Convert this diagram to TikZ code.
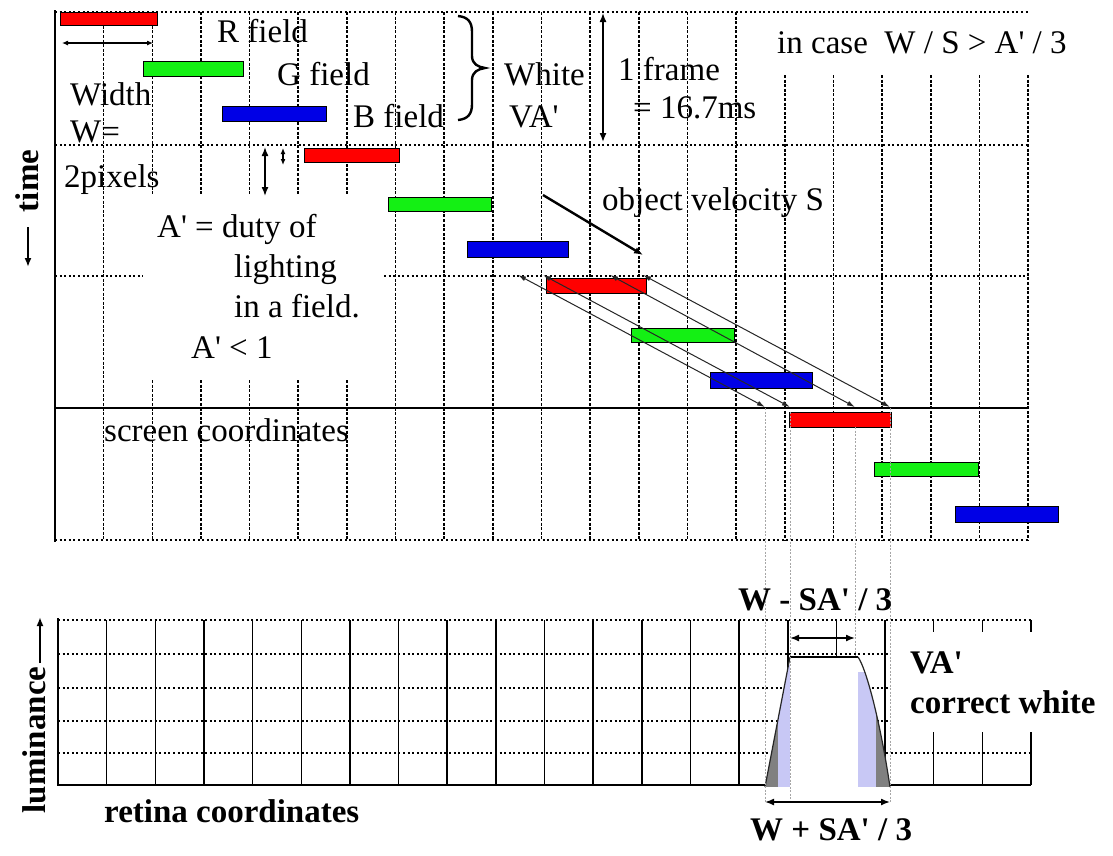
\documentclass[tikz,border=0pt]{standalone}
\usepackage{fontspec}
\setmainfont{Liberation Serif}
\usetikzlibrary{arrows.meta}
\definecolor{barred}{RGB}{255,0,0}
\definecolor{bargreen}{RGB}{20,240,20}
\definecolor{barblue}{RGB}{0,0,230}
\definecolor{lavfill}{RGB}{200,200,245}
\definecolor{darkfill}{RGB}{128,128,128}
\newcommand{\ap}{\textquotesingle}
\begin{document}
\begin{tikzpicture}[x=1pt,y=-1pt,
  vgrid/.style={line width=1.6pt, dash pattern=on 3pt off 1.6pt},
  hgrid/.style={line width=1.6pt, dash pattern=on 2pt off 2.6pt},
  solidline/.style={line width=1.5pt},
  colline/.style={line width=1.5pt},
  bar/.style={draw=black, line width=0.9pt},
  lbl/.style={font=\fontsize{33}{40}\selectfont, inner sep=0pt, anchor=base west},
  blbl/.style={font=\fontsize{33}{40}\selectfont\bfseries, inner sep=0pt, anchor=base west},
  tip/.style={-{Latex[length=9pt,width=7pt]}},
  dtip/.style={{Latex[length=9pt,width=7pt]}-{Latex[length=9pt,width=7pt]}},
  stip/.style={{Latex[length=6pt,width=5pt]}-{Latex[length=6pt,width=5pt]}},
  traj/.style={draw=black!85, line width=1pt, {Latex[length=8pt,width=5pt]}-{Latex[length=8pt,width=5pt]}},
  guide/.style={draw=black!35, line width=1pt, dash pattern=on 2pt off 1.5pt}
]
\useasboundingbox (0,0) rectangle (1113,855);
\fill[white] (0,0) rectangle (1113,855);

% ---------- top grid ----------
\def\cw{48.65}
\foreach \k in {1,7,8,9,10,11,12,13,14}
  \draw[vgrid] ({55+\k*\cw},12) -- ({55+\k*\cw},540);
\foreach \k in {2,3,4,5,6}{
  \draw[vgrid] ({55+\k*\cw},12) -- ({55+\k*\cw},195);
  \draw[vgrid] ({55+\k*\cw},380) -- ({55+\k*\cw},540);}
\foreach \k in {15,16,17,18,19,20}
  \draw[vgrid] ({55+\k*\cw},75) -- ({55+\k*\cw},540);
\draw[hgrid] (55,12) -- (1028,12);
\draw[hgrid] (55,145) -- (1028,145);
\draw[hgrid] (55,276) -- (143,276);
\draw[hgrid] (384,276) -- (1028,276);
\draw[hgrid] (55,540) -- (1028,540);
\draw[solidline] (55,408) -- (1028,408);
\draw[solidline] (55,10) -- (55,542);

% ---------- field bars ----------
\draw[bar, fill=barred]   (60,12) rectangle (157,25);
\draw[bar, fill=bargreen] (143,61) rectangle (243,76);
\draw[bar, fill=barblue]  (222,106) rectangle (326,121);
\draw[bar, fill=barred]   (304,148) rectangle (399,162);
\draw[bar, fill=bargreen] (388,197) rectangle (491,211);
\draw[bar, fill=barblue]  (467,241) rectangle (568,257);
\draw[bar, fill=barred]   (546,278) rectangle (646,293);
\draw[bar, fill=bargreen] (631,328) rectangle (734,342);
\draw[bar, fill=barblue]  (710,372) rectangle (812,388);
\draw[bar, fill=barred]   (789,412) rectangle (891,427);
\draw[bar, fill=bargreen] (874,462) rectangle (978,476);
\draw[bar, fill=barblue]  (955,506) rectangle (1058,522);

% ---------- eye trajectories ----------
\coordinate (d1s) at (518,275); \coordinate (d1e) at (765,407);
\coordinate (d2s) at (543,275); \coordinate (d2e) at (790,407);
\coordinate (d3s) at (610,275); \coordinate (d3e) at (855,407);
\coordinate (d4s) at (643,275); \coordinate (d4e) at (890,407);
\draw[traj] (d1s) -- (d1e);
\draw[traj] (d2s) -- (d2e);
\draw[traj] (d3s) -- (d3e);
\draw[traj] (d4s) -- (d4e);

% ---------- lower grid ----------
\foreach \k in {1,...,17}
  \draw[colline] ({58+\k*\cw},620) -- ({58+\k*\cw},785);
\foreach \k in {18,19,20}{
  \draw[colline] ({58+\k*\cw},620) -- ({58+\k*\cw},632);
  \draw[colline] ({58+\k*\cw},732) -- ({58+\k*\cw},785);}
\draw[hgrid] (58,620) -- (1031,620);
\draw[hgrid] (58,654) -- (890,654);
\draw[hgrid] (58,688) -- (890,688);
\draw[hgrid] (58,721) -- (890,721);
\draw[hgrid] (58,753) -- (1031,753);
\draw[solidline] (58,618) -- (58,786);
\draw[solidline] (58,785) -- (765,785);
\draw[solidline] (890,785) -- (1031,785);

% ---------- guides ----------
\draw[guide] (855,427) -- (855,657);

% ---------- luminance profile ----------
\path[fill=white] (765,787) -- (790,657) -- (858,657) .. controls (866,668) and (880,720) .. (890,787) -- cycle;
\begin{scope}
  \clip (765,787) -- (790,657) -- (858,657) .. controls (866,668) and (880,720) .. (890,787) -- cycle;
  \fill[lavfill] (778,665) rectangle (790,787);
  \fill[lavfill] (858,672) rectangle (876,787);
  \fill[darkfill] (755,600) rectangle (778,787);
  \fill[darkfill] (876,600) rectangle (900,787);
\end{scope}
\draw[line width=1.2pt, black!85] (765,787) -- (790,657);
\draw[line width=1.5pt] (790,657) -- (858,657);
\draw[line width=1.2pt, black!85] (858,657) .. controls (866,668) and (880,720) .. (890,787);

\draw[guide] (765,408) -- (765,803);
\draw[guide] (790,412) -- (790,803);
\draw[guide] (890,408) -- (890,803);

% ---------- arrows ----------
\coordinate (wl) at (62,43); \coordinate (wr) at (153,43);
\draw[line width=1.1pt, stip] (wl) -- (wr);
\coordinate (ft) at (603,13); \coordinate (fb) at (603,142);
\draw[line width=1.4pt, dtip] (ft) -- (fb);
\coordinate (at) at (265,147); \coordinate (ab) at (265,196);
\draw[line width=1.5pt, dtip] (at) -- (ab);
\coordinate (st) at (283,148); \coordinate (sb) at (283,165);
\draw[line width=1.3pt, stip] (st) -- (sb);
\coordinate (vs) at (543,195); \coordinate (ve) at (643,255);
\draw[line width=2.4pt, tip] (vs) -- (ve);
\coordinate (ul) at (790,638); \coordinate (ur) at (855,638);
\draw[line width=1.5pt, dtip] (ul) -- (ur);
\coordinate (bl) at (765,802); \coordinate (br) at (890,802);
\draw[line width=1.5pt, dtip] (bl) -- (br);
\coordinate (tt) at (28,227); \coordinate (tb) at (28,267);
\draw[line width=1.8pt, tip] (tt) -- (tb);
\coordinate (lb) at (40,663); \coordinate (lt) at (40,617);
\draw[line width=1.8pt, tip] (lb) -- (lt);

% brace
\draw[line width=2.4pt] (458,16) .. controls (468,17) and (472,22) .. (472,32) -- (472,56)
  .. controls (472,64) and (478,67) .. (485,68) .. controls (478,69) and (472,72) .. (472,80)
  -- (472,104) .. controls (472,114) and (468,119) .. (458,120);

% ---------- labels ----------
\node[lbl] (rf) at (217,42) {R field};
\node[lbl] (gf) at (277,85) {G field};
\node[lbl] (bf) at (353,127) {B field};
\node[lbl] (wd) at (70,105) {Width};
\node[lbl] (we) at (70,142) {W=};
\node[lbl] (px) at (64,187) {2pixels};
\node[lbl] (wh) at (504,85) {White};
\node[lbl] (va) at (509,127) {VA\ap};
\node[lbl] (fr) at (618,80) {1 frame};
\node[lbl] (ms) at (633,118) {= 16.7ms};
\node[lbl] (ic) at (777,53) {in case\ \ W / S > A\ap{} / 3};
\node[lbl] (du) at (157,237) {A\ap{} = duty of};
\node[lbl] (li) at (234,277) {lighting};
\node[lbl] (fi) at (234,317) {in a field.};
\node[lbl] (lt1) at (191,358) {A\ap{} < 1};
\node[lbl] (ov) at (602,210) {object velocity S};
\node[lbl] (sc) at (104,441) {screen coordinates};
\node[blbl] (wm) at (738,610) {W - SA\ap{} / 3};
\node[blbl] (vb) at (910,673) {VA\ap};
\node[blbl] (cw) at (910,713) {correct white};
\node[blbl] (wp) at (750,840) {W + SA\ap{} / 3};
\node[blbl] (rc) at (104,822) {retina coordinates};
\node[blbl, rotate=90, anchor=center] (tm) at (27,181) {time};
\node[blbl, rotate=90, anchor=center] (lu) at (34,740) {luminance};
\end{tikzpicture}
\end{document}
